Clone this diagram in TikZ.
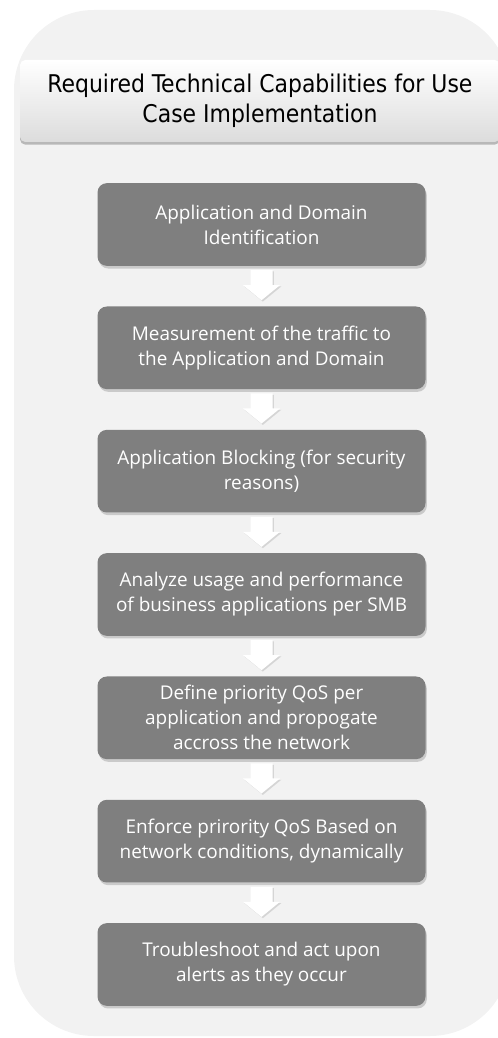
\documentclass[tikz,border=0pt]{standalone}
\usepackage{fontspec}
\setmainfont{Open Sans}
\newfontfamily\titlefont{DejaVu Sans Condensed}
\usetikzlibrary{calc,shadows}
\definecolor{PanelGray}{RGB}{242,242,242}
\definecolor{StepGray}{RGB}{127,127,127}
\definecolor{TitleShade}{RGB}{220,220,220}

\begin{document}
\begin{tikzpicture}[x=0.75pt,y=-0.75pt,
    stepbox/.style={fill=StepGray,rounded corners=7pt,minimum width=246pt,minimum height=62pt,
      inner sep=0pt,text=white,align=center,font=\fontsize{14.2}{18.75}\selectfont,
      drop shadow={opacity=0.35,shadow xshift=1pt,shadow yshift=-2pt}},
    titlebox/.style={top color=white,bottom color=TitleShade,rounded corners=4pt,
      minimum width=360pt,minimum height=61.5pt,inner sep=0pt,align=center,
      font=\titlefont\fontsize{18.3}{22.5}\selectfont,
      drop shadow={opacity=0.5,shadow xshift=0pt,shadow yshift=-2pt}}]
  \useasboundingbox (0,0) rectangle (497,1038);
  \fill[PanelGray,rounded corners=60pt] (14,10) rectangle (510,1036);
  \node[titlebox] (title) at (260,101) {Required Technical Capabilities for Use\\Case Implementation};
  % steps
  \foreach \i/\txt in {1/{Application and Domain\\Identification},
      2/{Measurement of the traffic to\\the Application and Domain},
      3/{Application Blocking (for security\\reasons)},
      4/{Analyze usage and performance\\of business applications per SMB},
      5/{Define priority QoS per\\application and propogate\\accross the network},
      6/{Enforce prirority QoS Based on\\network conditions, dynamically},
      7/{Troubleshoot and act upon\\alerts as they occur}}
    \node[stepbox] (b\i) at (261.5,{224.5+123.33*(\i-1)}) {\txt};
  % arrows between steps
  \foreach \a/\b in {1/2,2/3,3/4,4/5,5/6,6/7}
    \fill[white,drop shadow={opacity=0.25,shadow xshift=1pt,shadow yshift=-1pt}]
      ($(b\a.south)+(-11,4)$) -- ($(b\a.south)+(-11,19)$) -- ($(b\a.south)+(-18.5,19)$)
      -- ($(b\b.north)+(0,-6)$) -- ($(b\a.south)+(18.5,19)$) -- ($(b\a.south)+(11,19)$)
      -- ($(b\a.south)+(11,4)$) -- cycle;
\end{tikzpicture}
\end{document}
